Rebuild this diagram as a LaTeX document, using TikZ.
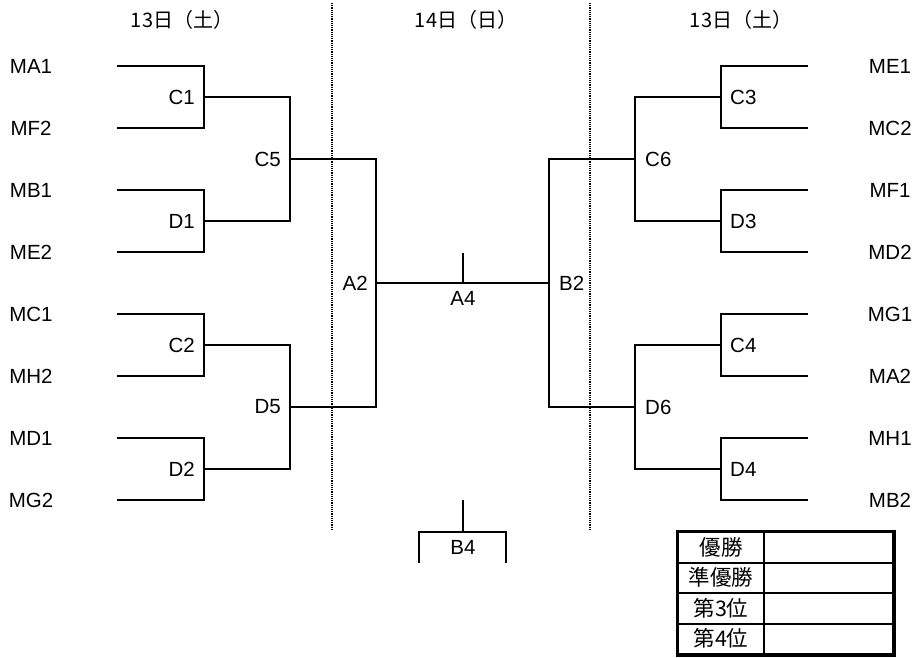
\documentclass[tikz,border=0pt]{standalone}
\usepackage{fontspec}
\setmainfont{Liberation Sans}
\newfontfamily\jpfont{Noto Sans CJK JP}
\usetikzlibrary{positioning,calc}

\begin{document}
\begin{tikzpicture}[
  x=1pt, y=-1pt,
  line/.style={line width=2.6pt},
  team/.style={font=\fontsize{20.5}{22}\selectfont, inner sep=0pt},
  match/.style={font=\fontsize{20.5}{22}\selectfont, inner sep=0pt},
  day/.style={font=\jpfont\fontsize{20}{22}\selectfont, inner sep=0pt},
  divider/.style={densely dotted, line width=1.2pt},
  cell/.style={draw, line width=2pt, minimum height=30.5pt, inner sep=0pt,
               font=\jpfont\fontsize{21.5}{23}\selectfont}
]
\useasboundingbox (0,0) rectangle (920,657);

% day headers and dividers
\node[day] (sat-l) at (182,20) {13日（土）};
\node[day] (sun) at (466,20) {14日（日）};
\node[day] (sat-r) at (741,20) {13日（土）};
\coordinate (div-l-top) at (332,3);
\coordinate (div-l-bot) at (332,530);
\coordinate (div-r-top) at (590,3);
\coordinate (div-r-bot) at (590,530);
\draw[divider] (div-l-top) -- (div-l-bot);
\draw[divider] (div-r-top) -- (div-r-bot);

% left teams
\node[team] (ma1) at (31,66) {MA1};
\node[team] (mf2) at (31,128) {MF2};
\node[team] (mb1) at (31,190) {MB1};
\node[team] (me2) at (31,252) {ME2};
\node[team] (mc1) at (31,314) {MC1};
\node[team] (mh2) at (31,376) {MH2};
\node[team] (md1) at (31,438) {MD1};
\node[team] (mg2) at (31,500) {MG2};
\coordinate (ma1-in) at (117,66);
\coordinate (mf2-in) at (117,128);
\coordinate (mb1-in) at (117,190);
\coordinate (me2-in) at (117,252);
\coordinate (mc1-in) at (117,314);
\coordinate (mh2-in) at (117,376);
\coordinate (md1-in) at (117,438);
\coordinate (mg2-in) at (117,500);

% right teams
\node[team] (me1) at (890,66) {ME1};
\node[team] (mc2) at (890,128) {MC2};
\node[team] (mf1) at (890,190) {MF1};
\node[team] (md2) at (890,252) {MD2};
\node[team] (mg1) at (890,314) {MG1};
\node[team] (ma2) at (890,376) {MA2};
\node[team] (mh1) at (890,438) {MH1};
\node[team] (mb2) at (890,500) {MB2};
\coordinate (me1-in) at (808,66);
\coordinate (mc2-in) at (808,128);
\coordinate (mf1-in) at (808,190);
\coordinate (md2-in) at (808,252);
\coordinate (mg1-in) at (808,314);
\coordinate (ma2-in) at (808,376);
\coordinate (mh1-in) at (808,438);
\coordinate (mb2-in) at (808,500);

% match points
\coordinate (c1) at (204,97);
\coordinate (d1) at (204,221);
\coordinate (c2) at (204,345);
\coordinate (d2) at (204,469);
\coordinate (c5) at (290,159);
\coordinate (d5) at (290,407);
\coordinate (a2) at (376,283);
\coordinate (b2) at (549,283);
\coordinate (c6) at (635,159);
\coordinate (d6) at (635,407);
\coordinate (c3) at (721,97);
\coordinate (d3) at (721,221);
\coordinate (c4) at (721,345);
\coordinate (d4) at (721,469);
\coordinate (a4) at (463,253);
\coordinate (b4-top) at (463,500);
\coordinate (b4) at (463,532);
\coordinate (b4-l) at (419,563);
\coordinate (b4-r) at (506,563);

% match labels
\node[match, left=9pt of c1] (c1-lbl) {C1};
\node[match, left=9pt of d1] (d1-lbl) {D1};
\node[match, left=9pt of c2] (c2-lbl) {C2};
\node[match, left=9pt of d2] (d2-lbl) {D2};
\node[match, left=9pt of c5] (c5-lbl) {C5};
\node[match, left=9pt of d5] (d5-lbl) {D5};
\node[match, left=8pt of a2] (a2-lbl) {A2};
\node[match, right=10pt of b2] (b2-lbl) {B2};
\node[match, right=10pt of c6] (c6-lbl) {C6};
\node[match, right=10pt of d6] (d6-lbl) {D6};
\node[match, right=9pt of c3] (c3-lbl) {C3};
\node[match, right=9pt of d3] (d3-lbl) {D3};
\node[match, right=9pt of c4] (c4-lbl) {C4};
\node[match, right=9pt of d4] (d4-lbl) {D4};
\node[match] (a4-lbl) at (463,298.5) {A4};
\node[match] (b4-lbl) at (463,547.5) {B4};

% left bracket
\draw[line] (ma1-in) -| (c1);
\draw[line] (mf2-in) -| (c1);
\draw[line] (mb1-in) -| (d1);
\draw[line] (me2-in) -| (d1);
\draw[line] (mc1-in) -| (c2);
\draw[line] (mh2-in) -| (c2);
\draw[line] (md1-in) -| (d2);
\draw[line] (mg2-in) -| (d2);
\draw[line] (c1) -| (c5);
\draw[line] (d1) -| (c5);
\draw[line] (c2) -| (d5);
\draw[line] (d2) -| (d5);
\draw[line] (c5) -| (a2);
\draw[line] (d5) -| (a2);

% right bracket
\draw[line] (me1-in) -| (c3);
\draw[line] (mc2-in) -| (c3);
\draw[line] (mf1-in) -| (d3);
\draw[line] (md2-in) -| (d3);
\draw[line] (mg1-in) -| (c4);
\draw[line] (ma2-in) -| (c4);
\draw[line] (mh1-in) -| (d4);
\draw[line] (mb2-in) -| (d4);
\draw[line] (c3) -| (c6);
\draw[line] (d3) -| (c6);
\draw[line] (c4) -| (d6);
\draw[line] (d4) -| (d6);
\draw[line] (c6) -| (b2);
\draw[line] (d6) -| (b2);

% final and third place
\draw[line] (a2) -- (b2);
\draw[line] (a4) -- (a4 |- a2);
\draw[line] (b4-top) -- (b4);
\draw[line] (b4-l) |- (b4) -| (b4-r);

% result table
\node[cell, minimum width=86pt] (rank1) at (721,547.25) {優勝};
\node[cell, minimum width=86pt] (rank2) at (721,577.75) {準優勝};
\node[cell, minimum width=86pt] (rank3) at (721,608.25) {第3位};
\node[cell, minimum width=86pt] (rank4) at (721,638.75) {第4位};
\node[cell, minimum width=129pt] (res1) at (828.5,547.25) {};
\node[cell, minimum width=129pt] (res2) at (828.5,577.75) {};
\node[cell, minimum width=129pt] (res3) at (828.5,608.25) {};
\node[cell, minimum width=129pt] (res4) at (828.5,638.75) {};
\draw[line width=3pt] (rank1.north west) rectangle (res4.south east);
\end{tikzpicture}
\end{document}
